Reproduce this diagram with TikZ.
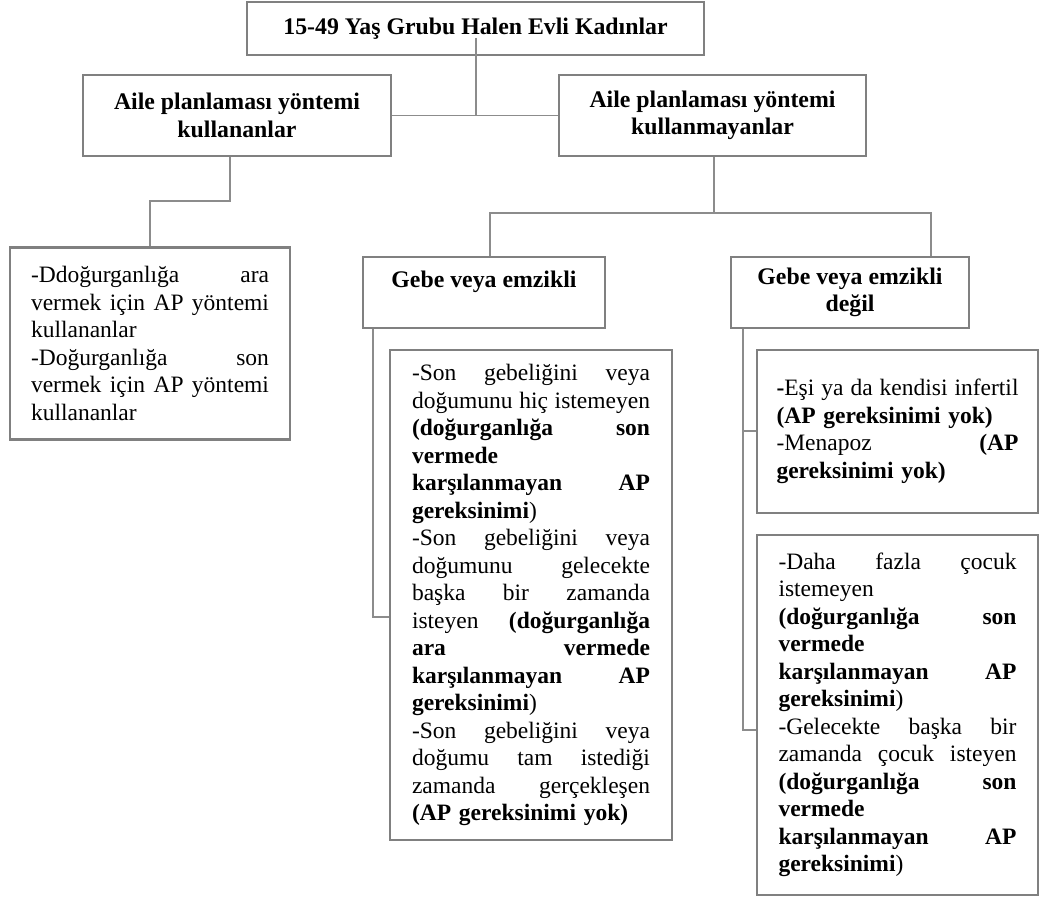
\documentclass[tikz,border=0pt]{standalone}
\usepackage{fontspec}
\setmainfont{Liberation Serif}
\usetikzlibrary{calc}
\definecolor{bord}{RGB}{128,128,128}
\definecolor{conn}{RGB}{140,140,140}
\newcommand{\jl}[2][238pt]{\leavevmode\hbox to #1{\spaceskip=0.25em plus 1fil\relax #2}}
\begin{document}
\begin{tikzpicture}[x=1pt,y=-1pt,
  box/.style={draw=bord, line width=2.2pt, fill=white, inner sep=0pt,
    font=\fontsize{23.5}{27.5}\selectfont},
  head/.style={box, font=\fontsize{23.8}{27.5}\selectfont\bfseries, align=center},
  leaf/.style={box, align=left, text width=238pt},
  con/.style={draw=conn, line width=1.1pt}]
\useasboundingbox (0,0) rectangle (1040,899);

\node[head, minimum width=457pt, minimum height=53pt] (top) at (475.5,28.5)
  {15-49 Yaş Grubu Halen Evli Kadınlar};
\node[head, minimum width=308pt, minimum height=81pt] (ap1) at (237,115.5)
  {Aile planlaması yöntemi\\kullananlar};
\node[head, minimum width=307pt, minimum height=81pt] (ap2) at (712.5,115.5)
  {Aile planlaması yöntemi\\kullanmayanlar};

\node[leaf, minimum width=280pt, minimum height=192pt] (l0) at (150,343.5) {%
\jl{-Ddoğurganlığa ara}\\
\jl{vermek için AP yöntemi}\\
kullananlar\\
\jl{-Doğurganlığa son}\\
\jl{vermek için AP yöntemi}\\
kullananlar};

\node[head, minimum width=242pt, minimum height=71pt] (g1) at (484,292.5)
  {Gebe veya emzikli\\\mbox{}};
\node[head, minimum width=238pt, minimum height=71pt] (g2) at (850,292.5)
  {Gebe veya emzikli\\değil};

\node[leaf, minimum width=282pt, minimum height=490pt] (l1) at (531,595) {%
\jl{-Son gebeliğini veya}\\
\jl{doğumunu hiç istemeyen}\\
\jl{\textbf{(doğurganlığa son}}\\
\textbf{vermede}\\
\jl{\textbf{karşılanmayan AP}}\\
\textbf{gereksinimi})\\
\jl{-Son gebeliğini veya}\\
\jl{doğumunu gelecekte}\\
\jl{başka bir zamanda}\\
\jl{isteyen \textbf{(doğurganlığa}}\\
\jl{\textbf{ara vermede}}\\
\jl{\textbf{karşılanmayan AP}}\\
\textbf{gereksinimi})\\
\jl{-Son gebeliğini veya}\\
\jl{doğumu tam istediği}\\
\jl{zamanda gerçekleşen}\\
\textbf{(AP gereksinimi yok)}};

\node[leaf, text width=242pt, minimum width=281pt, minimum height=163pt] (l2a) at (897.5,431.5) {%
\jl[242pt]{\textbf{-}Eşi ya da kendisi infertil}\\
\textbf{(AP gereksinimi yok)}\\
\jl[242pt]{-Menapoz \textbf{(AP}}\\
\textbf{gereksinimi yok)}};

\node[leaf, minimum width=281pt, minimum height=360pt] (l2b) at (897.5,715) {%
\jl{-Daha fazla çocuk}\\
istemeyen\\
\jl{\textbf{(doğurganlığa son}}\\
\textbf{vermede}\\
\jl{\textbf{karşılanmayan AP}}\\
\textbf{gereksinimi})\\
\jl{-Gelecekte başka bir}\\
\jl{zamanda çocuk isteyen}\\
\jl{\textbf{(doğurganlığa son}}\\
\textbf{vermede}\\
\jl{\textbf{karşılanmayan AP}}\\
\textbf{gereksinimi})};

% connectors
\coordinate (tc) at (476,38);
\draw[con] (tc) -- (tc |- ap1.east);
\draw[con] (ap1.east) -- (ap2.west);
\coordinate (k1) at (230,201);
\draw[con] (ap1.south -| k1) -- (k1) -| (l0.north);
\coordinate (s) at (714,213);
\coordinate (g1x) at (490,0);
\coordinate (g2x) at (931,0);
\draw[con] (ap2.south -| s) -- (s);
\draw[con] (g1.north -| g1x) |- (s) -| (g2.north -| g2x);
\coordinate (c1) at (373,617);
\draw[con] (g1.south -| c1) -- (c1) -- (l1.west |- c1);
\coordinate (c2) at (743,431);
\coordinate (c3) at (743,730);
\draw[con] (g2.south -| c2) -- (c3) -- (l2b.west |- c3);
\draw[con] (c2) -- (l2a.west |- c2);
\end{tikzpicture}
\end{document}
